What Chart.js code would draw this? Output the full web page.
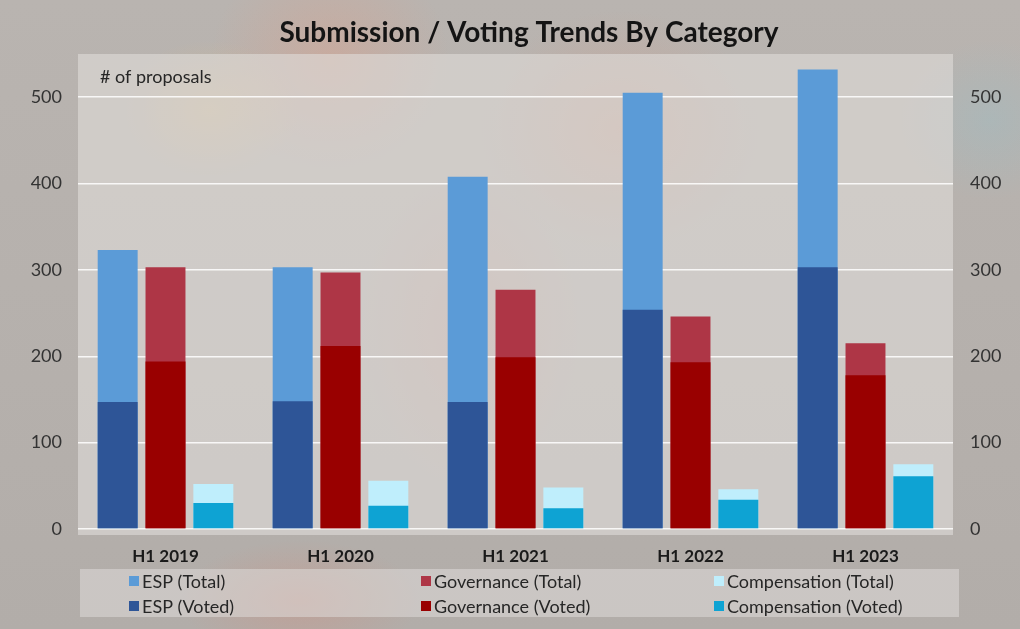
<!DOCTYPE html>
<html>
<head>
<meta charset="utf-8">
<script src="https://cdn.jsdelivr.net/npm/chart.js@4.4.1/dist/chart.umd.min.js"></script>
<style>
  html, body { margin: 0; padding: 0; }
  body {
    width: 1020px; height: 629px; overflow: hidden;
    background:
      radial-gradient(ellipse 90px 70px at 210px 110px, rgba(230,190,120,0.35), rgba(230,190,120,0) 100%),
      radial-gradient(ellipse 120px 110px at 330px 60px, rgba(235,150,120,0.30), rgba(235,150,120,0) 100%),
      radial-gradient(ellipse 140px 120px at 620px 130px, rgba(225,140,110,0.28), rgba(225,140,110,0) 100%),
      radial-gradient(ellipse 110px 160px at 470px 330px, rgba(220,120,110,0.22), rgba(220,120,110,0) 100%),
      radial-gradient(ellipse 90px 80px at 990px 120px, rgba(150,190,200,0.35), rgba(150,190,200,0) 100%),
      radial-gradient(ellipse 120px 60px at 300px 600px, rgba(220,130,110,0.30), rgba(220,130,110,0) 100%),
      linear-gradient(180deg, #b9b4b0 0%, #b5b0ac 60%, #b2ada9 100%);
  }
  canvas { display: block; }
</style>
</head>
<body>
<canvas id="chart" width="1020" height="629"></canvas>
<script>
// Half-year periods on the category axis
const categories = ['H1 2019', 'H1 2020', 'H1 2021', 'H1 2022', 'H1 2023'];

// Proposals submitted (Total) and proposals put to a vote (Voted)
const espTotal = [323, 303, 408, 505, 532];
const espVoted = [147, 148, 147, 254, 303];
const govTotal = [303, 297, 277, 246, 215];
const govVoted = [194, 212, 199, 193, 178];
const compTotal = [52, 56, 48, 46, 75];
const compVoted = [30, 27, 24, 34, 61];

// Value axis range and tick spacing
const yMin = 0;
const yMax = 550;
const yStep = 100;

const FONT = 'Lato, "Noto Sans", sans-serif';

// Each category pair shares one slot (same stack id); the value axis is not
// stacked, so the Voted bar is drawn over its Total bar from zero.
const datasets = [
  { label: 'ESP (Voted)', data: espVoted, backgroundColor: '#2e5597', stack: 'esp', order: 0 },
  { label: 'Governance (Voted)', data: govVoted, backgroundColor: '#990000', stack: 'gov', order: 0 },
  { label: 'Compensation (Voted)', data: compVoted, backgroundColor: '#0ea3d3', stack: 'comp', order: 0 },
  { label: 'ESP (Total)', data: espTotal, backgroundColor: '#5b9bd7', stack: 'esp', order: 1 },
  { label: 'Governance (Total)', data: govTotal, backgroundColor: '#ae3646', stack: 'gov', order: 1 },
  { label: 'Compensation (Total)', data: compTotal, backgroundColor: '#bfeefc', stack: 'comp', order: 1 }
];

const legendRows = [
  ['ESP (Total)', 'Governance (Total)', 'Compensation (Total)'],
  ['ESP (Voted)', 'Governance (Voted)', 'Compensation (Voted)']
];

const decorPlugin = {
  id: 'decor',
  beforeDraw(chart) {
    const { ctx, chartArea: a } = chart;
    ctx.save();
    // plot panel
    ctx.fillStyle = 'rgba(222,219,216,0.62)';
    ctx.fillRect(a.left, a.top, a.right - a.left, a.bottom - a.top + 6);
    // legend panel
    ctx.fillStyle = 'rgba(222,219,216,0.55)';
    ctx.fillRect(a.left + 2, 569, a.right - a.left + 4, 48);
    ctx.restore();
  },
  afterDraw(chart) {
    const { ctx, chartArea: a } = chart;
    ctx.save();
    // title
    ctx.fillStyle = '#141414';
    ctx.font = 'bold 28px ' + FONT;
    ctx.textAlign = 'center';
    ctx.textBaseline = 'middle';
    ctx.fillText('Submission / Voting Trends By Category', 529, 33);
    // unit note
    ctx.font = '18px ' + FONT;
    ctx.fillStyle = '#262626';
    ctx.textAlign = 'left';
    ctx.fillText('# of proposals', a.left + 22, 77);
    // legend grid
    const colX = [a.left + 51, a.left + 343, a.left + 636];
    const rowY = [581, 606];
    ctx.font = '18px ' + FONT;
    legendRows.forEach((row, r) => {
      row.forEach((label, c) => {
        const ds = chart.data.datasets.find(d => d.label === label);
        ctx.fillStyle = ds.backgroundColor;
        ctx.fillRect(colX[c], rowY[r] - 5, 10, 10);
        ctx.fillStyle = '#262626';
        ctx.fillText(label, colX[c] + 13, rowY[r] + 1);
      });
    });
    ctx.restore();
  }
};

const tickFont = { family: FONT, size: 18 };

new Chart(document.getElementById('chart'), {
  type: 'bar',
  data: { labels: categories, datasets },
  options: {
    responsive: false,
    animation: false,
    layout: { padding: { top: 54, left: 0, right: 0, bottom: 0 } },
    datasets: { bar: { categoryPercentage: 0.82, barPercentage: 0.835 } },
    plugins: { legend: { display: false }, tooltip: { enabled: false } },
    scales: {
      x: {
        grid: { display: false },
        border: { display: false },
        ticks: { color: '#1a1a1a', font: { family: FONT, size: 17, weight: 'bold' }, padding: 9 },
        afterFit(s) { s.height = 100; }
      },
      y: {
        stacked: false,
        min: yMin, max: yMax,
        ticks: { stepSize: yStep, includeBounds: false, color: '#333', font: tickFont, padding: 16 },
        grid: { color: 'rgba(255,255,255,0.85)', lineWidth: 1.5, drawTicks: false },
        border: { display: false },
        afterFit(s) { s.width = 78; }
      },
      y2: {
        position: 'right',
        min: yMin, max: yMax,
        ticks: { stepSize: yStep, includeBounds: false, color: '#333', font: tickFont, padding: 17 },
        grid: { display: false, drawTicks: false },
        border: { display: false },
        afterFit(s) { s.width = 67; }
      }
    }
  },
  plugins: [decorPlugin]
});
</script>
</body>
</html>
